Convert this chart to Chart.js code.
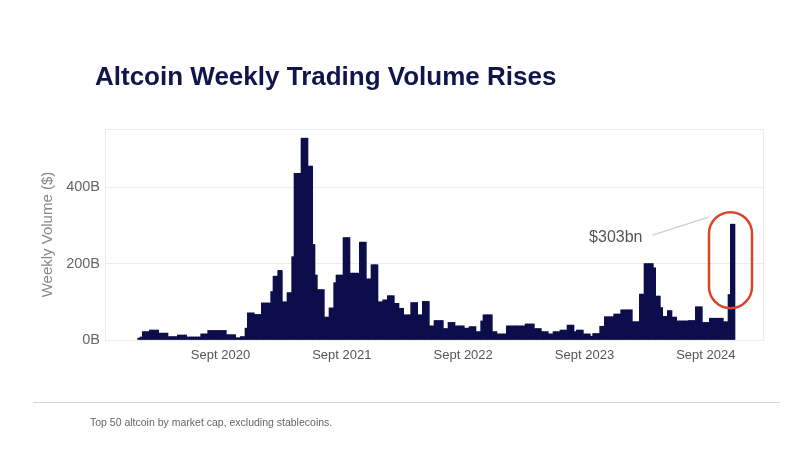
<!DOCTYPE html>
<html>
<head>
<meta charset="utf-8">
<script src="https://cdn.jsdelivr.net/npm/chart.js@4.4.1/dist/chart.umd.min.js"></script>
<style>
  body { margin: 0; background: #fff; font-family: "Liberation Sans", Arial, sans-serif; }
  #wrap { position: relative; width: 800px; height: 470px; }
  #title { position: absolute; left: 95px; top: 61px; font-size: 26px; font-weight: bold; color: #10154a; }
  #rule { position: absolute; left: 33px; top: 402px; width: 747px; height: 1px; background: #d4d4d4; }
  #note { position: absolute; left: 90px; top: 416px; font-size: 10.5px; color: #666; }
  canvas { position: absolute; left: 0; top: 0; }
</style>
</head>
<body>
<div id="wrap">
  <canvas id="chart" width="800" height="470"></canvas>
  <div id="title">Altcoin Weekly Trading Volume Rises</div>
  <div id="rule"></div>
  <div id="note">Top 50 altcoin by market cap, excluding stablecoins.</div>
</div>
<script>
// weekly volume in $B, one value per week starting at firstWeek
const firstWeek = Date.UTC(2020, 0, 6);
const volume = [
  5, 8, 22, 22, 22, 26, 26, 26, 26, 18,
  18, 18, 18, 9, 9, 9, 9, 13, 13, 13,
  13, 8, 8, 8, 8, 8, 8, 16, 16, 16,
  25, 25, 25, 25, 25, 25, 25, 25, 14, 14,
  14, 14, 6, 6, 9, 9, 31, 71, 71, 71,
  67, 67, 67, 97, 97, 97, 97, 127, 167, 167,
  182, 182, 100, 100, 124, 124, 218, 436, 436, 436,
  528, 528, 528, 455, 455, 250, 170, 132, 132, 132,
  60, 60, 84, 84, 150, 170, 170, 170, 268, 268,
  268, 175, 175, 175, 175, 256, 256, 256, 160, 160,
  197, 197, 197, 100, 100, 105, 105, 116, 116, 116,
  96, 96, 83, 83, 66, 66, 66, 98, 98, 98,
  66, 66, 101, 101, 101, 37, 37, 51, 51, 51,
  51, 30, 30, 46, 46, 46, 37, 37, 37, 37,
  31, 31, 35, 35, 35, 22, 22, 50, 66, 66,
  66, 66, 22, 22, 16, 16, 16, 16, 37, 37,
  37, 37, 37, 37, 37, 37, 42, 42, 42, 42,
  30, 30, 30, 22, 22, 22, 16, 16, 22, 22,
  22, 26, 26, 26, 39, 39, 39, 22, 26, 26,
  26, 16, 16, 16, 10, 17, 17, 17, 36, 36,
  61, 61, 61, 61, 68, 68, 68, 79, 79, 79,
  79, 79, 48, 48, 48, 120, 120, 200, 200, 200,
  200, 189, 115, 115, 85, 62, 62, 77, 77, 60,
  60, 50, 50, 50, 50, 50, 51, 51, 51, 87,
  87, 87, 46, 46, 46, 57, 57, 57, 57, 57,
  57, 48, 48, 119, 303, 303
];
const tickLabels = ["Sept 2020", "Sept 2021", "Sept 2022", "Sept 2023", "Sept 2024"];
const yTicks = [0, 200, 400];
const yMax = 552;
const highlight = { value: 303, label: "$303bn" };

// empty weeks either side of the data, like the original axis
const padBefore = 14, padAfter = 12;
const WEEK = 7 * 86400000;
const weeks = [];
for (let k = -padBefore; k < volume.length + padAfter; k++) {
  weeks.push(new Date(firstWeek + k * WEEK).toISOString().slice(0, 10));
}
const values = Array(padBefore).fill(null).concat(volume, Array(padAfter).fill(null));

const navy = "#0c0d4a";

const annotate = {
  id: "annotate",
  afterDatasetsDraw(chart) {
    const { ctx, scales: { x, y }, chartArea } = chart;
    ctx.save();
    // right frame line
    ctx.strokeStyle = "#ececec";
    ctx.lineWidth = 1;
    ctx.beginPath();
    ctx.moveTo(chartArea.right + 0.5, chartArea.top);
    ctx.lineTo(chartArea.right + 0.5, chartArea.bottom);
    ctx.stroke();

    const idx = padBefore + volume.length - 2;
    const cx = x.getPixelForValue(idx) - 1;
    const top = y.getPixelForValue(highlight.value);

    // red pill round the spike
    ctx.strokeStyle = "#d9442b";
    ctx.lineWidth = 2.5;
    ctx.beginPath();
    ctx.roundRect(cx - 21.5, top - 12, 43, 96, 21.5);
    ctx.stroke();

    // leader line + label
    ctx.strokeStyle = "#cfcfcf";
    ctx.lineWidth = 1.2;
    ctx.beginPath();
    ctx.moveTo(cx - 78, top + 11);
    ctx.lineTo(cx - 22, top - 7);
    ctx.stroke();

    ctx.fillStyle = "#555";
    ctx.font = "16px 'Liberation Sans', Arial, sans-serif";
    ctx.textAlign = "right";
    ctx.textBaseline = "middle";
    ctx.fillText(highlight.label, cx - 88, top + 13);
    ctx.restore();
  }
};

new Chart(document.getElementById("chart"), {
  type: "bar",
  data: {
    labels: weeks,
    datasets: [{
      data: values,
      backgroundColor: navy,
      borderWidth: 0,
      barPercentage: 1,
      categoryPercentage: 1
    }]
  },
  options: {
    responsive: false,
    animation: false,
    layout: { padding: { left: 35, top: 129, right: 37, bottom: 100 } },
    plugins: { legend: { display: false }, tooltip: { enabled: false } },
    scales: {
      x: {
        grid: { display: false, drawTicks: false },
        border: { display: true, color: "#ececec" },
        afterFit(s) { s.height = 30; },
        ticks: {
          autoSkip: false,
          maxRotation: 0,
          minRotation: 0,
          padding: 8,
          color: "#555",
          font: { family: "'Liberation Sans', Arial, sans-serif", size: 13 },
          callback(val) {
            const d = new Date(this.getLabelForValue(val));
            if (d.getUTCMonth() === 8 && d.getUTCDate() <= 7) {
              return tickLabels.find(t => t.endsWith(String(d.getUTCFullYear()))) || "";
            }
            return "";
          }
        }
      },
      y: {
        min: 0,
        max: yMax,
        afterFit(s) { s.width = 70; },
        afterBuildTicks(s) { s.ticks = yTicks.concat([yMax]).map(v => ({ value: v })); },
        grid: { color: "#ececec", drawTicks: false },
        border: { display: true, color: "#ececec" },
        ticks: {
          padding: 5,
          color: "#666",
          font: { family: "'Liberation Sans', Arial, sans-serif", size: 14.5 },
          callback: v => yTicks.includes(v) ? v + "B" : ""
        },
        title: {
          display: true,
          text: "Weekly Volume ($)",
          color: "#888",
          font: { family: "'Liberation Sans', Arial, sans-serif", size: 15 }
        }
      }
    }
  },
  plugins: [annotate]
});
</script>
</body>
</html>
